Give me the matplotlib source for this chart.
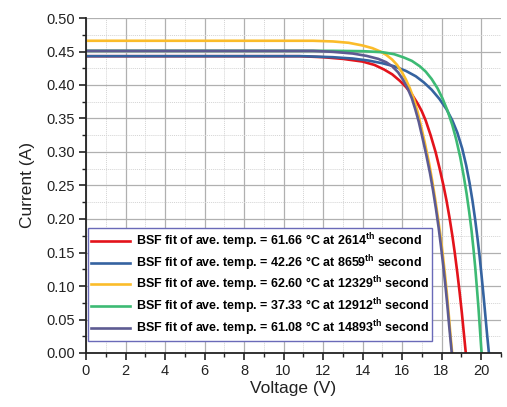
import matplotlib
matplotlib.use("Agg")
import matplotlib.pyplot as plt
from matplotlib.ticker import MultipleLocator, FormatStrFormatter

plt.rcParams['font.family'] = ['Liberation Sans', 'DejaVu Sans']
plt.rcParams['mathtext.fontset'] = 'custom'
plt.rcParams['mathtext.rm'] = 'Liberation Sans'
plt.rcParams['mathtext.bf'] = 'Liberation Sans:bold'

# ---- data ----
red_v = [0, 10.8, 12.0, 13.0, 14.0, 14.6, 15.1, 15.5, 15.9, 16.2, 16.5, 16.8, 17.0, 17.2, 17.45, 17.7,
         17.9, 18.1, 18.25, 18.4, 18.55, 18.67, 18.8, 18.92, 19.03, 19.13, 19.23]
red_i = [0.443, 0.443, 0.4415, 0.439, 0.435, 0.430, 0.423, 0.416, 0.406, 0.397, 0.386, 0.372, 0.361, 0.347,
         0.325, 0.300, 0.276, 0.250, 0.228, 0.203, 0.175, 0.150, 0.120, 0.090, 0.060, 0.030, 0.0]

blue_v = [0, 11.0, 12.5, 13.5, 14.3, 15.0, 15.6, 16.2, 16.7, 17.1, 17.5, 17.9, 18.25, 18.55, 18.8, 19.05,
          19.25, 19.42, 19.57, 19.7, 19.82, 19.93, 20.03, 20.13, 20.22, 20.31, 20.4]
blue_i = [0.443, 0.443, 0.4415, 0.4395, 0.4365, 0.4325, 0.428, 0.421, 0.413, 0.404, 0.393, 0.379, 0.364,
          0.347, 0.329, 0.305, 0.280, 0.254, 0.227, 0.200, 0.172, 0.144, 0.115, 0.085, 0.056, 0.027, 0.0]

yellow_v = [0, 11.5, 12.5, 13.3, 14.0, 14.5, 14.9, 15.2, 15.5, 15.75, 16.0, 16.2, 16.4, 16.6, 16.79, 16.97,
            17.16, 17.36, 17.53, 17.69, 17.83, 17.96, 18.08, 18.19, 18.29, 18.38, 18.46, 18.54]
yellow_i = [0.466, 0.466, 0.465, 0.463, 0.459, 0.455, 0.450, 0.445, 0.438, 0.430, 0.419, 0.408, 0.395,
            0.379, 0.360, 0.338, 0.313, 0.285, 0.257, 0.228, 0.200, 0.172, 0.143, 0.113, 0.083, 0.053,
            0.025, 0.0]

green_v = [0, 12.5, 14.0, 15.0, 15.6, 16.1, 16.5, 16.9, 17.2, 17.5, 17.8, 18.05, 18.3, 18.55, 18.75, 18.95,
           19.12, 19.27, 19.4, 19.52, 19.62, 19.71, 19.79, 19.87, 19.94, 20.0, 20.03]
green_i = [0.451, 0.451, 0.4505, 0.449, 0.446, 0.441, 0.436, 0.428, 0.420, 0.409, 0.395, 0.380, 0.362,
           0.340, 0.318, 0.292, 0.265, 0.238, 0.211, 0.183, 0.155, 0.127, 0.098, 0.068, 0.038, 0.012, 0.0]

purple_v = [0, 11.5, 12.5, 13.5, 14.2, 14.8, 15.2, 15.5, 15.8, 16.05, 16.3, 16.5, 16.68, 16.85, 17.03,
            17.22, 17.42, 17.57, 17.72, 17.85, 17.97, 18.09, 18.2, 18.3, 18.39, 18.48, 18.52]
purple_i = [0.451, 0.451, 0.4495, 0.447, 0.4435, 0.439, 0.434, 0.428, 0.419, 0.408, 0.394, 0.380, 0.363,
            0.345, 0.322, 0.297, 0.268, 0.243, 0.215, 0.188, 0.160, 0.130, 0.100, 0.070, 0.040, 0.012, 0.0]

labels = [
    r'BSF fit of ave. temp. = 61.66 °C at 2614$^{\mathbf{th}}$ second',
    r'BSF fit of ave. temp. = 42.26 °C at 8659$^{\mathbf{th}}$ second',
    r'BSF fit of ave. temp. = 62.60 °C at 12329$^{\mathbf{th}}$ second',
    r'BSF fit of ave. temp. = 37.33 °C at 12912$^{\mathbf{th}}$ second',
    r'BSF fit of ave. temp. = 61.08 °C at 14893$^{\mathbf{th}}$ second',
]
colors = ['#e3131b', '#3563a0', '#fbbc2a', '#3dba74', '#5d5b92']

fig = plt.figure(figsize=(5.07, 4.07), dpi=100)
ax = fig.add_axes([86/507, 54/407, 414.75/507, 335/407])

series = [(red_v, red_i), (blue_v, blue_i), (yellow_v, yellow_i), (green_v, green_i), (purple_v, purple_i)]
for (v, i), c, lab in zip(series, colors, labels):
    ax.plot(v, i, color=c, lw=1.9, label=lab, solid_joinstyle='round')

ax.set_xlim(0, 21)
ax.set_ylim(0, 0.50)
ax.xaxis.set_major_locator(MultipleLocator(2))
ax.xaxis.set_minor_locator(MultipleLocator(1))
ax.yaxis.set_major_locator(MultipleLocator(0.05))
ax.yaxis.set_minor_locator(MultipleLocator(0.025))
ax.yaxis.set_major_formatter(FormatStrFormatter('%.2f'))

ax.grid(which='major', color='#b0b0b0', lw=0.9)
ax.grid(which='minor', color='#d4d4d4', lw=0.7, ls=(0, (1, 1)))
ax.set_axisbelow(True)

for s in ['top', 'right']:
    ax.spines[s].set_visible(False)
for s in ['left', 'bottom']:
    ax.spines[s].set_linewidth(1.3)
    ax.spines[s].set_color('#222222')

ax.tick_params(which='major', direction='out', length=5, width=1.2, labelsize=10.5, colors='#222222', pad=3)
ax.tick_params(which='minor', direction='out', length=3, width=1.0, colors='#222222')

ax.set_xlabel('Voltage (V)', fontsize=12.5, color='#222222', labelpad=2)
ax.set_ylabel('Current (A)', fontsize=12.5, color='#222222', labelpad=8)

leg = ax.legend(loc='lower left', bbox_to_anchor=(0.005, 0.036),
                prop={'weight': 'bold', 'size': 9.0}, frameon=True, fancybox=False,
                handlelength=3.1, handletextpad=0.5, labelspacing=0.17,
                borderpad=0.25, borderaxespad=0.0)
leg.get_frame().set_edgecolor('#6a6ab8')
leg.get_frame().set_linewidth(1.0)
leg.get_frame().set_facecolor('white')
leg.get_frame().set_alpha(1.0)

fig.savefig('out.png', dpi=100)
